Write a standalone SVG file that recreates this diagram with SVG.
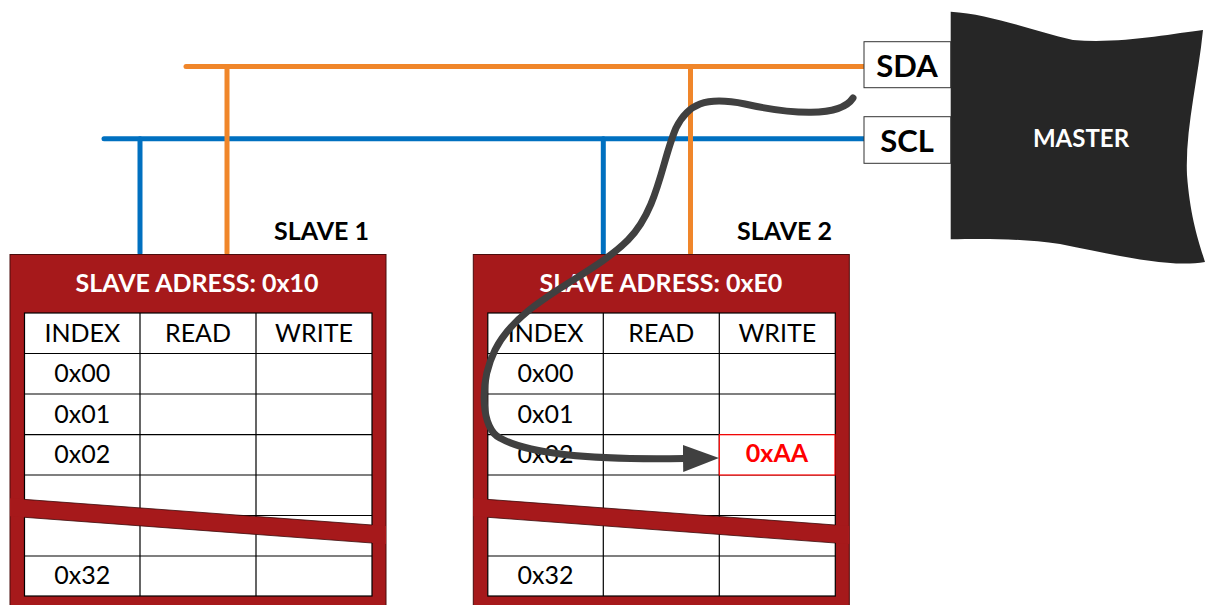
<svg xmlns="http://www.w3.org/2000/svg" width="1208" height="605" viewBox="0 0 1208 605">
<style>
.frame{fill:#A6191B;stroke:#4a0c0c;stroke-width:1}
.cell{fill:#fff;stroke:#000;stroke-width:1.2}
.grid{stroke:#000;stroke-width:1.2;fill:none}
.band{fill:#A6191B;stroke:none}
.bandedge{stroke:#3a0a0a;stroke-width:0.8;fill:none}
.t{font-family:Lato,"Liberation Sans",sans-serif;font-size:25px;fill:#000;text-anchor:middle}
.title{font-family:Lato,"Liberation Sans",sans-serif;font-size:25px;font-weight:bold;fill:#fff;text-anchor:middle}
.lbl{font-family:Lato,"Liberation Sans",sans-serif;font-size:25px;font-weight:bold;fill:#000}
.pin{font-family:Lato,"Liberation Sans",sans-serif;font-size:31px;font-weight:bold;fill:#000;text-anchor:middle}
.sda{stroke:#F0862A;stroke-width:5;stroke-linecap:round;fill:none}
.scl{stroke:#0070C0;stroke-width:5;stroke-linecap:round;fill:none}
.pinbox{fill:#fff;stroke:#333;stroke-width:1}
</style>
<defs>
<marker id="ah" markerUnits="userSpaceOnUse" markerWidth="40" markerHeight="30" refX="1" refY="13.5" orient="auto">
<polygon points="0,0 36,13.5 0,27" fill="#404040"/>
</marker>
<g id="tbl">
<rect class="frame" x="10" y="254.5" width="376" height="352"/>
<rect class="cell" x="24.5" y="313" width="347.5" height="283"/>
<path class="grid" d="M140 313V596M256 313V596M24.5 353.5H372M24.5 394H372M24.5 434.7H372M24.5 475H372M24.5 515.5H372M24.5 556H372"/>
<polygon class="band" points="10,498.3 386,526 386,544 10,516.2"/>
<path class="bandedge" d="M24.5 499.4L372 525M24.5 517.3L372 543"/>
<text class="t" x="82.3" y="342">INDEX</text>
<text class="t" x="198" y="342">READ</text>
<text class="t" x="314" y="342">WRITE</text>
<text class="t" x="82.3" y="382">0x00</text>
<text class="t" x="82.3" y="422.5">0x01</text>
<text class="t" x="82.3" y="463">0x02</text>
<text class="t" x="82.3" y="584">0x32</text>
</g>
</defs>
<g id="bus">
<path class="sda" d="M186 66.5H866"/>
<path class="scl" d="M104 138.7H866"/>
<path class="scl" d="M140 138.7V253M603.3 138.7V253"/>
<path class="sda" d="M227 66.5V253M690.5 66.5V253"/>
</g>
<g id="slave1">
<use href="#tbl"/>
<text class="title" x="197" y="292">SLAVE ADRESS: 0x10</text>
<text class="lbl" x="274" y="240">SLAVE 1</text>
</g>
<g id="slave2">
<use href="#tbl" transform="translate(463.3,0)"/>
<text class="title" x="661" y="292">SLAVE ADRESS: 0xE0</text>
<text class="lbl" x="737" y="240">SLAVE 2</text>
<rect x="719.3" y="434.7" width="115.7" height="40.3" fill="#fff" stroke="#FF0000" stroke-width="1.2"/>
<text class="t" x="777" y="462" style="fill:#FF0000;font-weight:bold">0xAA</text>
</g>
<g id="master">
<path d="M950.7 11.7C990 14 1030 30 1073 40C1120 44 1170 34 1203 30C1198 80 1185 130 1187 175C1190 215 1198 240 1205 262C1170 268 1120 256 1060 244C1020 238 980 239 950.7 239.3Z" fill="#262626"/>
<text x="1081" y="147" style="font-family:Lato,'Liberation Sans',sans-serif;font-size:24px;font-weight:bold;fill:#fff;text-anchor:middle">MASTER</text>
</g>
<g id="sda">
<rect class="pinbox" x="864" y="41.7" width="86.7" height="46"/>
<text class="pin" x="907" y="76.5">SDA</text>
</g>
<g id="scl">
<rect class="pinbox" x="864" y="116.7" width="86.7" height="46.6"/>
<text class="pin" x="907" y="151.7">SCL</text>
</g>
<g id="connectors">
<path d="M853 98C840 118 790 114 745 104C705 96 688 104 676 128C662 160 658 210 628 240C590 278 520 300 495 350C478 385 482 430 500 438C530 455 600 460 684 458.5" fill="none" stroke="#404040" stroke-width="7" stroke-linecap="round" marker-end="url(#ah)"/>
</g>
</svg>
